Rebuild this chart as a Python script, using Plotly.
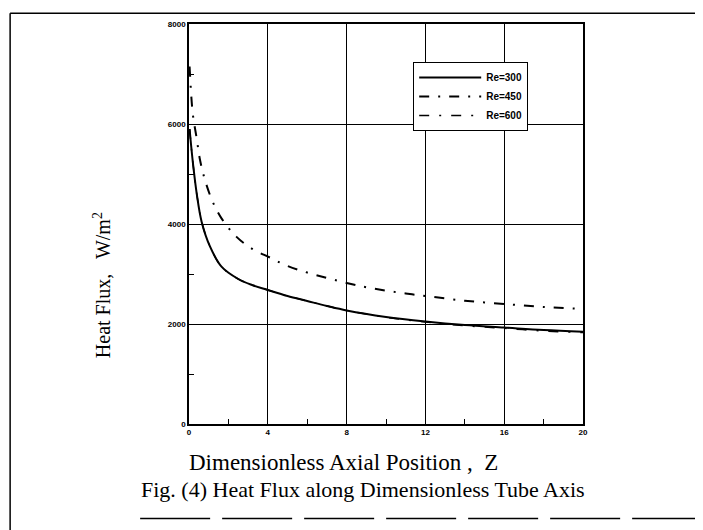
import plotly.graph_objects as go

# ---- data ----
z_300 = [0.03, 0.1, 0.22, 0.39, 0.64, 1.07, 1.65, 2.5, 3.2, 4, 5, 6, 7, 8, 10, 12, 14, 16, 18, 20]
q_300 = [5900, 5600, 5147, 4613, 4047, 3547, 3147, 2900, 2780, 2680, 2560, 2460, 2360, 2270, 2140, 2050, 1980, 1930, 1880, 1846]

z_450 = [0.03, 0.19, 0.39, 0.56, 0.81, 1.2, 1.65, 2.4, 3.17, 4.1, 5, 6, 8, 9, 10, 11, 12, 14, 16, 18, 20]
q_450 = [7150, 6213, 5713, 5280, 4880, 4447, 4113, 3747, 3513, 3330, 3160, 3030, 2820, 2735, 2666, 2610, 2560, 2466, 2400, 2340, 2300]

z_600 = [0.03, 0.1, 0.22, 0.39, 0.64, 1.07, 1.65, 2.5, 3.2, 4, 5, 6, 7, 8, 10, 12, 14, 16, 18, 20]
q_600 = [5900, 5600, 5147, 4613, 4047, 3547, 3147, 2900, 2780, 2680, 2560, 2460, 2360, 2270, 2135, 2040, 1965, 1915, 1860, 1830]

x_ticks = [0, 4, 8, 12, 16, 20]
y_ticks = [0, 2000, 4000, 6000, 8000]

fig = go.Figure()
fig.add_trace(go.Scatter(x=z_300, y=q_300, mode="lines", name="Re=300",
                         line=dict(color="black", width=2, dash="solid", shape="spline")))
fig.add_trace(go.Scatter(x=z_450, y=q_450, mode="lines", name="Re=450",
                         line=dict(color="black", width=2, dash="10px,9px,2px,9px", shape="spline")))
fig.add_trace(go.Scatter(x=z_600, y=q_600, mode="lines", name="Re=600",
                         line=dict(color="black", width=1.5, dash="10px,10px,2px,10px", shape="spline")))

tickfont = dict(family="Liberation Sans", size=8, color="black", weight="bold")
serif = "Liberation Serif, Times New Roman, serif"

fig.update_xaxes(range=[0, 20], tickvals=x_ticks, ticktext=[str(v) for v in x_ticks],
                 showgrid=True, gridcolor="black", gridwidth=1, zeroline=False,
                 showline=True, linecolor="black", linewidth=1.5, mirror=True,
                 ticks="inside", ticklen=5, tickcolor="black",
                 minor=dict(dtick=2, ticks="inside", ticklen=5, tickcolor="black", showgrid=False),
                 tickfont=tickfont)
fig.update_yaxes(range=[0, 8000], tickvals=y_ticks, ticktext=[str(v) for v in y_ticks],
                 showgrid=True, gridcolor="black", gridwidth=1, zeroline=False,
                 showline=True, linecolor="black", linewidth=1.5, mirror=True,
                 ticks="inside", ticklen=5, tickcolor="black",
                 minor=dict(dtick=1000, ticks="inside", ticklen=5, tickcolor="black", showgrid=False),
                 tickfont=tickfont)

# page body has an 8px margin, so the figure is 8px smaller and margins shifted
fig.update_layout(
    width=695, height=522,
    margin=dict(l=181, r=120, t=14, b=106),
    paper_bgcolor="white", plot_bgcolor="white",
    showlegend=True,
    legend=dict(x=0.569, y=0.905, xanchor="left", yanchor="top",
                bgcolor="white", bordercolor="black", borderwidth=1,
                font=dict(family="Liberation Sans", size=10, color="black", weight="bold"),
                itemwidth=62, tracegroupgap=0),
)

# axis titles
fig.add_annotation(text="Dimensionless Axial Position ,  Z",
                   xref="paper", yref="paper", x=0.391, y=-0.097, xanchor="center", yanchor="middle",
                   showarrow=False, font=dict(family=serif, size=23, color="black"))
fig.add_annotation(text="Heat Flux,   W/m<sup>2</sup>",
                   xref="paper", yref="paper", x=-0.222, y=0.346, xanchor="center", yanchor="middle",
                   textangle=-90, showarrow=False, font=dict(family=serif, size=20, color="black"))
# caption
fig.add_annotation(text="Fig. (4) Heat Flux along Dimensionless Tube Axis",
                   xref="paper", yref="paper", x=0.442, y=-0.164, xanchor="center", yanchor="middle",
                   showarrow=False, font=dict(family=serif, size=22, color="black"))

# outer frame of the scanned figure
frame = dict(color="black", width=1.5)
fig.add_shape(type="line", xref="paper", yref="paper", x0=-0.454, x1=-0.454, y0=1.027, y1=-0.27, line=frame)
fig.add_shape(type="line", xref="paper", yref="paper", x0=-0.454, x1=1.297, y0=1.027, y1=1.027, line=frame)
fig.add_shape(type="line", xref="paper", yref="paper", x0=-0.124, x1=1.297, y0=-0.236, y1=-0.236,
              line=dict(color="black", width=1.5, dash="70px,12px"))
fig.add_shape(type="line", xref="paper", yref="paper", x0=1.297, x1=1.297, y0=1.027, y1=0.94, line=frame)

fig.write_html("out.html")
